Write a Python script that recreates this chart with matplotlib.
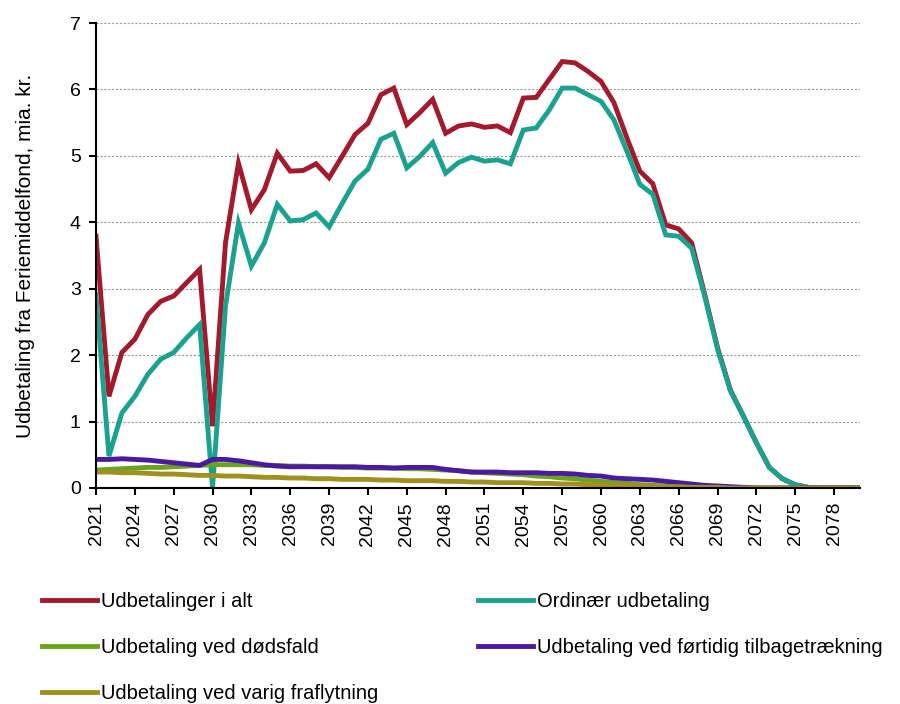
import matplotlib
matplotlib.use("Agg")
import matplotlib.pyplot as plt
import numpy as np

# ==========================================
# DATA (mia. kr.)
# ==========================================
aar = list(range(2021, 2081))

i_alt = [3.79, 1.38, 2.04, 2.24, 2.61, 2.81, 2.89, 3.09, 3.29, 0.93,
         3.69, 4.89, 4.19, 4.49, 5.04, 4.77, 4.78, 4.88, 4.67, 4.99,
         5.32, 5.49, 5.92, 6.02, 5.47, 5.65, 5.85, 5.34, 5.45, 5.48,
         5.43, 5.45, 5.35, 5.87, 5.88, 6.15, 6.42, 6.40, 6.27, 6.12,
         5.80, 5.27, 4.77, 4.58, 3.96, 3.90, 3.69, 2.92, 2.11, 1.47,
         1.08, 0.68, 0.31, 0.14, 0.05, 0.01, 0.0, 0.0, 0.0, 0.0]

ordinaer = [2.91, 0.48, 1.13, 1.38, 1.71, 1.94, 2.04, 2.26, 2.46, 0.0,
            2.74, 3.99, 3.34, 3.69, 4.27, 4.02, 4.04, 4.14, 3.93, 4.28,
            4.62, 4.80, 5.25, 5.34, 4.82, 4.99, 5.20, 4.74, 4.90, 4.98,
            4.92, 4.94, 4.88, 5.39, 5.42, 5.69, 6.02, 6.02, 5.92, 5.82,
            5.54, 5.07, 4.57, 4.42, 3.81, 3.79, 3.61, 2.89, 2.09, 1.46,
            1.08, 0.68, 0.31, 0.14, 0.05, 0.01, 0.0, 0.0, 0.0, 0.0]

doedsfald = [0.27, 0.28, 0.29, 0.30, 0.31, 0.31, 0.32, 0.33, 0.34, 0.35,
             0.35, 0.35, 0.35, 0.34, 0.34, 0.33, 0.33, 0.32, 0.32, 0.31,
             0.31, 0.30, 0.30, 0.30, 0.29, 0.29, 0.28, 0.27, 0.26, 0.24,
             0.23, 0.22, 0.21, 0.20, 0.18, 0.17, 0.15, 0.14, 0.12, 0.10,
             0.08, 0.07, 0.05, 0.04, 0.03, 0.02, 0.01, 0.01, 0.0, 0.0,
             0.0, 0.0, 0.0, 0.0, 0.0, 0.0, 0.0, 0.0, 0.0, 0.0]

tilbagetraekning = [0.43, 0.43, 0.44, 0.43, 0.42, 0.40, 0.38, 0.36, 0.34, 0.43,
                    0.43, 0.41, 0.38, 0.35, 0.33, 0.32, 0.32, 0.32, 0.32, 0.32,
                    0.32, 0.31, 0.31, 0.30, 0.31, 0.31, 0.31, 0.28, 0.26, 0.24,
                    0.24, 0.24, 0.23, 0.23, 0.23, 0.22, 0.22, 0.21, 0.19, 0.18,
                    0.15, 0.14, 0.13, 0.12, 0.10, 0.08, 0.06, 0.04, 0.03, 0.02,
                    0.01, 0.0, 0.0, 0.0, 0.0, 0.0, 0.0, 0.0, 0.0, 0.0]

fraflytning = [0.24, 0.24, 0.23, 0.23, 0.22, 0.21, 0.21, 0.20, 0.19, 0.19,
               0.18, 0.18, 0.17, 0.16, 0.16, 0.15, 0.15, 0.14, 0.14, 0.13,
               0.13, 0.13, 0.12, 0.12, 0.11, 0.11, 0.11, 0.10, 0.10, 0.09,
               0.09, 0.08, 0.08, 0.08, 0.07, 0.07, 0.06, 0.06, 0.05, 0.05,
               0.04, 0.04, 0.03, 0.03, 0.02, 0.02, 0.01, 0.01, 0.01, 0.0,
               0.0, 0.0, 0.0, 0.0, 0.0, 0.0, 0.0, 0.0, 0.0, 0.0]

serier = [
    ("Udbetalinger i alt", i_alt, "#A21A2B"),
    ("Ordinær udbetaling", ordinaer, "#1AA190"),
    ("Udbetaling ved dødsfald", doedsfald, "#6BA21F"),
    ("Udbetaling ved førtidig tilbagetrækning", tilbagetraekning, "#4A1AA0"),
    ("Udbetaling ved varig fraflytning", fraflytning, "#A0901E"),
]

# ==========================================
# FIGUR
# ==========================================
plt.rcParams['font.family'] = ['Liberation Sans', 'DejaVu Sans']
FS = 14

fig = plt.figure(figsize=(9, 7.04), dpi=100)
ax = fig.add_axes([96 / 900, 1 - 488 / 704, (860 - 96) / 900, (488 - 23) / 704])

linjer = []
for navn, vaerdier, farve in serier:
    l, = ax.plot(aar, vaerdier, color=farve, linewidth=3.5, label=navn,
                 solid_joinstyle='miter')
    linjer.append(l)

ax.set_xlim(2021, 2080)
ax.set_ylim(0, 7)
ax.set_xticks(list(range(2021, 2080, 3)))
ax.set_xticklabels([str(a) for a in range(2021, 2080, 3)], rotation=90)
ax.set_yticks(range(0, 8))
ax.tick_params(axis='both', labelsize=FS, direction='out', length=5, width=1.5)
ax.tick_params(axis='y', pad=6)
ax.tick_params(axis='x', pad=5)
ax.yaxis.grid(True, color='#999999', linestyle=(0, (2, 1.5)), linewidth=0.8)
ax.set_axisbelow(True)

for side in ['top', 'right']:
    ax.spines[side].set_visible(False)
ax.spines['left'].set_linewidth(1.5)
ax.spines['bottom'].set_linewidth(1.5)

ax.set_ylabel("Udbetaling fra Feriemiddelfond, mia. kr.", fontsize=15)
ax.yaxis.set_label_coords((35 - 96) / 764, 0.5)

# Legende i to kolonner (række for række)
fælles = dict(frameon=False, fontsize=14.5, handlelength=2.75, handletextpad=0.2,
              labelspacing=1.35, borderpad=0, borderaxespad=0, loc='upper left')
leg1 = fig.legend([linjer[0], linjer[2], linjer[4]],
                  [serier[0][0], serier[2][0], serier[4][0]],
                  bbox_to_anchor=(42 / 900, 1 - 592 / 704), **fælles)
leg2 = fig.legend([linjer[1], linjer[3]],
                  [serier[1][0], serier[3][0]],
                  bbox_to_anchor=(478 / 900, 1 - 592 / 704), **fælles)

plt.savefig("out.png", dpi=100)
